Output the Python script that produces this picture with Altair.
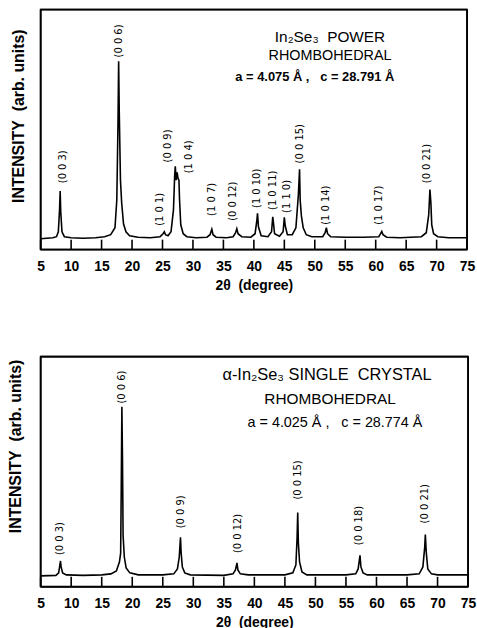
import altair as alt
import pandas as pd

FONT = "Liberation Sans"
NB = "\u00a0"

# ---------------- Top panel: In2Se3 powder ----------------
top_2theta = [5.0, 6.0, 7.0, 7.6, 7.9, 8.1, 8.2, 8.3, 8.5, 8.9, 10.0, 12.0, 14.0, 15.5, 16.5,
              17.2, 17.5, 17.7, 17.8, 17.9, 18.1, 18.3, 18.6, 19.0, 19.6, 21.0, 23.0, 24.6,
              25.1, 25.3, 25.5, 25.9, 26.4, 26.8, 27.0, 27.1, 27.25, 27.4, 27.55, 27.7, 27.8,
              28.0, 28.4, 29.0, 30.5, 32.3, 32.8, 33.1, 33.3, 33.8, 35.5, 36.6, 37.0, 37.2,
              37.4, 38.0, 39.5, 40.2, 40.5, 40.6, 40.75, 41.2, 42.3, 42.9, 43.1, 43.2, 43.4,
              44.2, 44.8, 45.0, 45.15, 45.5, 46.3, 46.9, 47.3, 47.5, 47.6, 47.8, 48.1, 48.6,
              49.5, 51.3, 51.7, 51.9, 52.1, 52.6, 55.0, 58.0, 60.5, 60.8, 61.0, 61.2, 61.8,
              64.0, 67.5, 68.3, 68.7, 68.9, 69.05, 69.2, 69.5, 70.2, 72.0, 75.0]
top_intensity = [1, 1.5, 2, 3, 8, 30, 49, 28, 8, 3, 2, 1.5, 2, 3, 5,
                 12, 40, 120, 180, 130, 60, 37, 16, 8, 4, 2.5, 2, 3,
                 6, 8, 5, 4, 8, 30, 65, 74, 60, 68, 62, 60, 40,
                 15, 6, 3, 2, 2.5, 5, 10.5, 5, 2.5, 2, 3, 7, 11,
                 6, 3, 2.5, 6, 20, 26.5, 13, 4, 3, 8, 23, 18, 6,
                 3.5, 8, 22.5, 14, 5, 5, 12, 45, 71, 40, 24, 12, 5,
                 3, 3, 7, 12, 6, 3, 2.5, 2.5, 3, 6, 8.3, 5, 2.5,
                 2, 3, 7, 25, 50.5, 38, 15, 6, 3, 2, 2]
top_peak_labels = ["(0 0 3)", "(0 0 6)", "(1 0 1)", "(0 0 9)", "(1 0 4)", "(1 0 7)", "(0 0 12)",
                   "(1 0 10)", "(1 0 11)", "(1 1 0)", "(0 0 15)", "(1 0 14)", "(1 0 17)", "(0 0 21)"]
top_label_2theta = [8.6, 17.8, 24.6, 25.9, 29.3, 33.1, 36.5, 40.5, 43.2, 45.4, 47.5, 51.8, 60.5, 68.5]
top_label_intensity = [57, 184, 14, 78, 67, 24, 19, 32, 30, 27, 77, 15, 15, 57]
top_notes = ["In\u2082Se\u2083" + NB + NB + "POWER", "RHOMBOHEDRAL",
             "a = 4.075 \u00c5 ," + NB + NB + NB + "c = 28.791 \u00c5"]
top_note_2theta = [52.5, 52.5, 50.0]
top_note_intensity = [205, 185, 164]
top_note_size = [15.5, 14.5, 13]
top_note_weight = ["normal", "normal", "bold"]

# ---------------- Bottom panel: alpha-In2Se3 single crystal ----------------
bot_2theta = [5.0, 7.5, 7.95, 8.15, 8.25, 8.35, 8.6, 9.2, 12.0, 15.0, 16.5, 17.4, 17.9, 18.1,
              18.2, 18.3, 18.4, 18.5, 18.7, 19.0, 19.6, 21.0, 25.0, 26.8, 27.4, 27.7, 27.9,
              28.0, 28.2, 28.6, 29.5, 35.0, 36.5, 36.9, 37.15, 37.3, 37.7, 39.0, 45.0, 46.3,
              46.8, 47.0, 47.1, 47.2, 47.4, 47.8, 48.6, 55.0, 56.6, 57.0, 57.3, 57.45, 57.8,
              58.5, 65.0, 67.0, 67.6, 67.9, 68.0, 68.15, 68.4, 69.0, 70.0, 75.0]
bot_intensity = [1, 1.5, 4, 12, 16, 10, 4, 2, 1.5, 2, 3, 6, 15, 24,
                 90, 171.7, 120, 42, 20, 9, 4, 2, 2, 3, 8, 20, 40,
                 25, 10, 4, 2, 1.5, 3, 7, 14, 7, 3, 2, 2, 4,
                 12, 40, 65, 35, 15, 5, 2, 2, 3, 8, 21.7, 10, 4,
                 2, 2, 3, 10, 30, 42.7, 25, 8, 3, 2, 2]
bot_peak_labels = ["(0 0 3)", "(0 0 6)", "(0 0 9)", "(0 0 12)", "(0 0 15)", "(0 0 18)", "(0 0 21)"]
bot_label_2theta = [8.25, 18.3, 28.0, 37.3, 47.1, 57.2, 68.0]
bot_label_intensity = [22, 175, 49, 24, 78, 32, 54]
bot_notes = ["\u03b1-In\u2082Se\u2083 SINGLE" + NB + NB + "CRYSTAL", "RHOMBOHEDRAL",
             "a = 4.025 \u00c5 ," + NB + NB + NB + "c = 28.774 \u00c5"]
bot_note_2theta = [51.9, 52.4, 53.2]
bot_note_intensity = [204, 180, 155]
bot_note_size = [16.5, 15.5, 14.5]
bot_note_weight = ["normal", "normal", "normal"]

tick_values = [5, 10, 15, 20, 25, 30, 35, 40, 45, 50, 55, 60, 65, 70, 75]
x_domain = [5, 75]


def panel(tt, inten, labels, lab_tt, lab_i, notes, note_tt, note_i, note_size, note_weight,
          ydom, w, h, title_pad, title_y):
    spec = pd.DataFrame({"tt": tt, "I": inten})
    labdf = pd.DataFrame({"tt": lab_tt, "I": lab_i, "label": labels})
    tickdf = pd.DataFrame({"tt": tick_values, "I": [float(ydom[0])] * len(tick_values),
                           "I2": [0.0] * len(tick_values)})
    # frame: vertical sides at the x-domain edges, horizontal sides at the y-domain edges
    vframe = pd.DataFrame({"tt": x_domain, "I": [float(ydom[0])] * 2, "I2": [float(ydom[1])] * 2})
    hframe = pd.DataFrame({"tt": [x_domain[0]] * 2, "tt2": [x_domain[1]] * 2,
                           "I": [float(ydom[0]), float(ydom[1])]})
    xs = alt.Scale(domain=x_domain, nice=False, zero=False)
    ys = alt.Scale(domain=ydom, nice=False, zero=False)
    xaxis = alt.Axis(values=tick_values, domain=False, grid=False, ticks=False,
                     labelPadding=10, labelFont=FONT, labelFontSize=14,
                     labelFontWeight="bold", labelColor="black", labelFlush=False,
                     labelOverlap=False, format="d",
                     title="2\u03b8" + NB + NB + "(degree)", titleFont=FONT, titleFontSize=14,
                     titleFontWeight="bold", titleColor="black", titlePadding=5)
    yaxis = alt.Axis(labels=False, ticks=False, domain=False, grid=False,
                     title="INTENSITY" + NB + NB + "(arb. units)", titleFont=FONT,
                     titleFontSize=16, titleFontWeight="bold", titleColor="black",
                     titlePadding=title_pad, titleY=title_y)
    X = alt.X("tt:Q", scale=xs, axis=xaxis)
    Y = alt.Y("I:Q", scale=ys, axis=yaxis)
    line = alt.Chart(spec).mark_line(color="black", strokeWidth=1.6, clip=True).encode(
        x=X, y=Y, order="tt:Q")
    ticks = alt.Chart(tickdf).mark_rule(color="black", strokeWidth=1.6).encode(
        x=X, y=Y, y2=alt.Y2("I2:Q"))
    fv = alt.Chart(vframe).mark_rule(color="black", strokeWidth=1.8).encode(
        x=X, y=Y, y2=alt.Y2("I2:Q"))
    fh = alt.Chart(hframe).mark_rule(color="black", strokeWidth=1.8).encode(
        x=X, x2=alt.X2("tt2:Q"), y=Y)
    labs = alt.Chart(labdf).mark_text(angle=270, align="left", baseline="middle",
                                      font="DejaVu Sans", fontSize=10, color="black").encode(
        x=X, y=Y, text="label:N")
    layers = [line, ticks, fv, fh, labs]
    for i in range(len(notes)):
        sub = pd.DataFrame({"tt": [note_tt[i]], "I": [note_i[i]], "note": [notes[i]]})
        layers.append(alt.Chart(sub).mark_text(align="center", baseline="middle", font=FONT,
                                               color="black", fontSize=note_size[i],
                                               fontWeight=note_weight[i]).encode(
            x=X, y=Y, text="note:N"))
    return alt.layer(*layers).properties(width=w, height=h)


top = panel(top_2theta, top_intensity, top_peak_labels, top_label_2theta, top_label_intensity,
            top_notes, top_note_2theta, top_note_intensity, top_note_size, top_note_weight,
            [-10, 232.3], 430, 242, 14, 107)
bottom = panel(bot_2theta, bot_intensity, bot_peak_labels, bot_label_2theta, bot_label_intensity,
               bot_notes, bot_note_2theta, bot_note_intensity, bot_note_size, bot_note_weight,
               [-10, 222.4], 431, 232, 17, 90)

chart = alt.vconcat(top, bottom, spacing=62).properties(
    padding={"left": 7, "top": 5, "right": 0, "bottom": 0},
    background="white",
).configure_view(stroke="black", strokeWidth=1.6)

chart.save("out.html", embed_options={"renderer": "svg", "actions": False})
